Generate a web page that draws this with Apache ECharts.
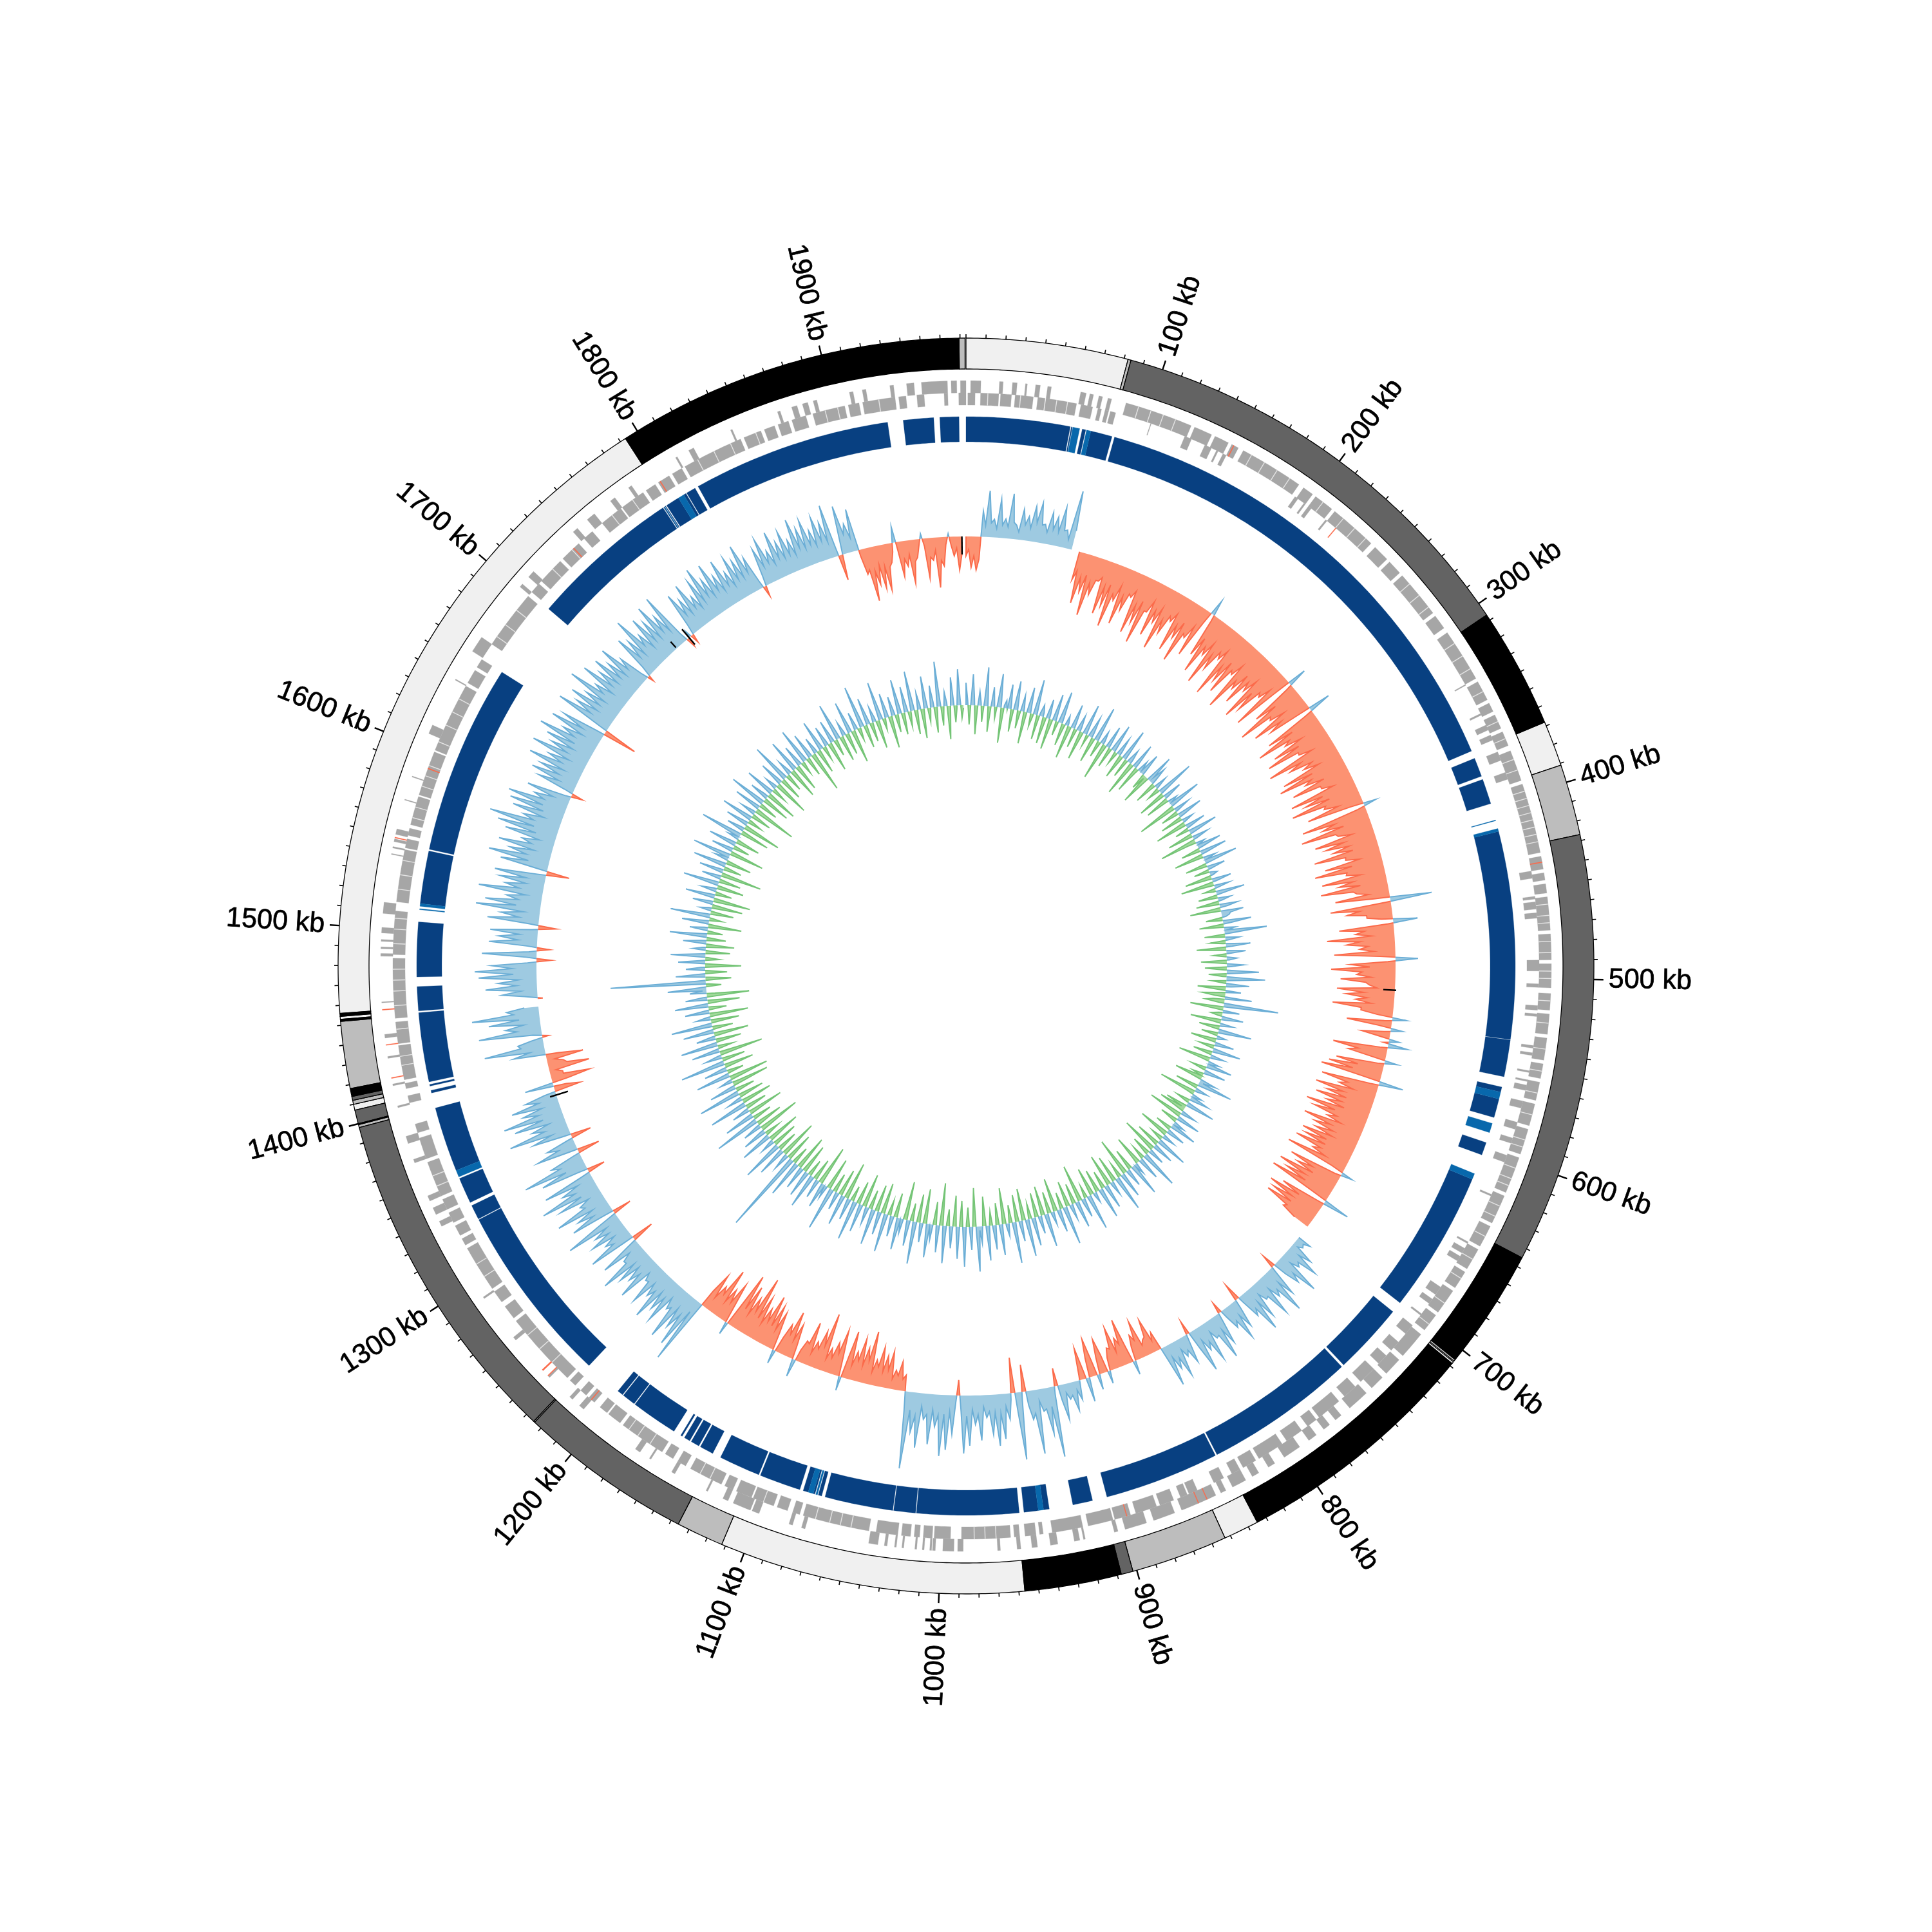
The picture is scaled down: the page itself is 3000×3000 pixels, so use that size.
<!DOCTYPE html>
<html><head><meta charset="utf-8">
<style>html,body{margin:0;padding:0;background:#fff}#c{width:3000px;height:3000px}</style>
<script src="https://cdn.jsdelivr.net/npm/echarts@6/dist/echarts.min.js"></script></head>
<body><div id="c"></div>
<script>
const genomeKb = 1973;
const labelKb = [100,200,300,400,500,600,700,800,900,1000,1100,1200,1300,1400,1500,1600,1700,1800,1900];

// contig ideogram [start kb, end kb, shade]
const ideoF0 = [[0,82],[368,391],[707.5,708.5],[835,853],[957,1112],[1407,1410],[1453,1454.5],[1456,1793]];
const ideoBD = [[82,83.5],[391,427],[706,707],[853,902],[1112,1136],[1224.3,1225],[1398,1399.5],[1410,1412],[1418,1452],[1969.5,1972.5]];
const ideo63 = [[83.5,307],[427,645],[902,908],[1136,1224.3],[1225,1398],[1400,1407],[1412,1414]];
const ideo00 = [[307,368],[645,706],[708.5,835],[908,957],[1399.5,1400],[1414,1418],[1452,1453],[1454.5,1456],[1793,1969.5]];

// strand gene blocks
const genesOuter = [[2.5,8],[18,20],[25,27.5],[32,33],[37.5,40],[44,46],[62,65],[67,69],[72,74],[77,79],[87,124],[126,136],[138,146],[148,152],[155,190],[193,199],[201,212],[214,240],[243,252],[254,262],[264,290],[292,300],[303,332],[334,345],[347,352],[354,362],[364,372],[375,392],[394,432],[434,441],[443,447],[449,454],[456,474],[476,490],[492,505],[508,517],[519,530],[532,544],[546,554],[556,566],[568,580],[582,596],[598,618],[620,636],[638,650],[652,664],[666,676],[678,692],[694,704],[707,722],[725,735],[738,746],[750,762],[768,772],[776,780],[785,790],[796,806],[812,816],[822,826],[830,838],[842,845],[848,868],[872,884],[888,900],[904,906],[922,923],[925,928],[937,941],[948,951],[957,959],[968,969.5],[988,991],[993,999],[1003,1004.5],[1005,1006],[1009,1010],[1013,1014],[1020,1021],[1024,1025],[1029,1030.5],[1034,1039],[1074,1076],[1081,1083],[1100,1104],[1105,1115],[1118,1121],[1130,1131],[1150,1152],[1165,1166],[1172,1175],[1210,1213],[1218,1220],[1235,1236],[1262,1264],[1290,1291],[1335,1338],[1342,1346],[1350,1353],[1372,1374],[1383,1387],[1403,1404],[1415,1416],[1430,1431],[1441,1443],[1460,1460.5],[1485,1486.5],[1489,1490],[1493,1494],[1497.5,1500.5],[1508,1514],[1540,1540.5],[1543.5,1544.3],[1547,1548.5],[1551,1554],[1570,1570.5],[1583,1583.5],[1608,1613],[1640,1640.6],[1658,1667],[1701,1703],[1708,1712],[1742,1745],[1752,1757],[1768,1771],[1780,1782],[1810,1811],[1818,1821],[1843,1844],[1870,1871.5],[1878,1881],[1884,1887],[1890,1892],[1910,1912],[1917,1919],[1932,1934],[1941,1945],[1949,1963],[1965,1968],[1970,1973]];
const genesInner = [[1,5],[8,18],[19,25],[27,37],[39.5,43.5],[44,61],[63.5,70],[73,75],[77,79],[80,83],[103,103.4],[123,127],[135,139],[142,143],[146,148],[192,194],[198,199],[201,203],[213,214],[332,332.6],[350,351],[357,360],[363,366],[373,378],[385,389],[441,445],[455,456.5],[458,462],[464,467],[490,496],[503,505],[515,517.5],[519.5,521],[537,538.5],[541,542.5],[551,552],[556,557],[559,562],[568,572],[580,584],[589,592],[599,603],[622,623],[651,652],[655,658],[660,663],[680,685],[688,691],[698,699],[706,712],[718,724],[728,734],[738,748],[752,760],[764,778],[780,786],[790,800],[803,818],[820,828],[830,835],[840,846],[856,861],[862,866],[870,878],[880,892],[895,904],[905,919],[922,939],[944,946],[948,954],[957,960],[962,989],[995,1004],[1005,1010],[1012,1015],[1017,1022],[1024,1036],[1040,1077],[1079,1083],[1086,1092],[1094,1106],[1107,1116],[1118,1123],[1125,1144],[1147,1152],[1155,1160],[1162,1188],[1190,1198],[1199,1204],[1208,1212],[1214,1218],[1222,1226],[1228,1270],[1272,1280],[1283,1290],[1292,1318],[1320,1324],[1326,1332],[1334,1340],[1342,1348],[1350,1370],[1372,1384],[1387,1392],[1404,1408],[1412,1415],[1417,1436],[1437,1449],[1451,1484],[1486,1510],[1515,1544],[1545,1550],[1552,1556],[1558,1574],[1575,1600],[1601,1640],[1642,1650],[1652,1657],[1667,1700],[1703,1709],[1711,1726],[1728,1740],[1744,1750],[1757,1770],[1771,1785],[1787,1793],[1795,1802],[1804,1810],[1812,1846],[1848,1858],[1860,1866],[1868,1874],[1876,1884],[1888,1906],[1908,1914],[1916,1934],[1936,1940],[1946,1950],[1961,1963],[1969,1973]];
const genesRedOuter = [[149,149.5],[437,437.5],[853,853.4],[858,858.4],[1236,1236.5],[1240,1240.8],[1419,1419.5],[1437,1437.5],[1456,1456.5],[1549,1549.5]];
const genesRedInner = [[220,220.5],[897,897.4],[1210,1210.5],[1590,1590.5],[1736,1736.5],[1796,1796.5]];
// narrow pale seams between neighbouring genes
const seamsOuter = [94,101,108,115,160,168,176,184,206,220,228,236,270,278,286,310,318,326,340,358,368,380,386,398,402,406,410,414,418,422,426,460,466,470,480,486,496,500,512,524,538,550,562,574,588,592,604,610,614,626,632,644,658,670,686,700];
const seamsInner = [12,30,50,56,970,976,982,1050,1056,1062,1070,1100,1132,1138,1170,1178,1184,1240,1250,1260,1300,1308,1356,1362,1425,1430,1445,1458,1466,1472,1478,1492,1500,1506,1522,1530,1538,1562,1568,1580,1586,1592,1606,1616,1624,1632,1672,1680,1690,1720,1735,1764,1778,1820,1830,1840,1855,1895,1902,1925];

// alignment blocks
const alignDark = [[0,60],[60.6,61.2],[67,69],[72,84.5],[86,367],[371.5,382.5],[384.4,399],[415.5,535.4],[535.7,557],[563,566],[570,581],[596,603.5],[618.5,700.5],[707,748.5],[750,837.5],[838.5,905],[913.5,925],[938.7,942],[945,953.3],[956,1014.9],[1015.4,1028],[1028.5,1068],[1070,1072],[1074,1075],[1078,1081],[1083,1107],[1108,1132],[1137,1145],[1146,1151],[1152,1155.5],[1157,1158],[1162.5,1189.6],[1190.2,1198],[1198.6,1202],[1224,1329],[1329.5,1338],[1340,1355],[1360,1397.6],[1406.5,1408],[1410.5,1411.5],[1413,1453],[1454,1468],[1473.5,1505],[1515.5,1546],[1547,1657],[1702,1789.5],[1790,1790.4],[1791,1791.4],[1792,1800],[1803.5,1805],[1805.5,1811],[1813,1928],[1937,1954.5],[1958,1969]];
const alignLight = [[61.5,65.5],[69.5,72],[408.8,409.2],[413.8,415.5],[566,570],[584.5,590],[615,618.5],[942,945],[1072.5,1073.5],[1075,1078],[1356,1360],[1512,1512.6],[1514,1515.5],[1790.4,1790.7],[1800,1803.5]];

// outer skew track: one row per 100 kb, window starts every 4 kb ...
const skew0 = [-30,-48,-52,40,72,28,60,30,70,22,48,38,55,62,30,50,45,62,28,92,null,-45,-80,-60,-95];
const skew1 = [-60,-35,-85,-70,-100,-55,-90,-65,-40,-95,-75,-105,-50,-85,-60,-100,-70,-45,-90,-65,-100,-55,-80,25,-70];
const skew2 = [-95,-60,-105,-75,-50,-110,-80,-95,-55,-112,-70,-90,-60,-105,-85,-50,-100,30,-75,-110,-60,-95,-70,35,-85];
const skew3 = [-108,-65,-90,-105,-55,-112,-80,-60,-100,-110,-70,-95,-50,-105,-85,-110,-60,-90,20,-105,-75,-112,-55,-95,-80];
const skew4 = [-70,-103,-55,-90,-108,-60,-100,-75,-105,-50,-85,65,-95,-70,-40,38,-85,-60,-105,-75,-55,-95,35,-70,-100];
const skew5 = [-60,-85,-40,-90,-75,-60,-95,-50,22,-70,18,-45,16,30,-85,-60,20,-75,-85,-95,38,-90,-60,-95,-75];
const skew6 = [-90,-70,-100,-85,-60,-95,-75,-70,-88,-80,-92,-60,-98,18,-85,-70,-96,-80,-100,42,-72,-90,-80,-85,-50];
const skew7 = [null,null,22,15,38,55,30,70,45,-22,50,75,40,65,30,55,72,40,-28,45,60,35,-18,50,70];
const skew8 = [30,62,40,70,-22,45,30,58,42,65,-30,-55,-25,-60,-40,22,-72,-45,-65,-35,20,-55,24,-60,38];
const skew9 = [-50,30,45,25,55,-28,110,72,35,100,45,-42,105,-55,40,70,80,62,35,70,45,78,90,-24,60];
const skew10 = [85,95,50,78,40,85,62,120,-25,-45,-30,-58,-50,-62,-40,-83,-55,-68,-45,-75,22,-72,-50,-38,-91];
const skew11 = [-60,-40,-68,-35,28,-55,-72,-48,22,-60,-68,-80,-55,-70,-98,-60,-75,-90,20,-65,-50,-79,-45,-60,106];
const skew12 = [85,60,85,40,70,55,78,45,65,30,72,48,58,82,35,66,-35,75,42,60,48,90,-30,70,55];
const skew13 = [85,40,70,95,55,80,-28,75,100,50,-35,65,45,-32,60,95,55,80,94,60,75,50,-41,45,-61];
const skew14 = [-20,-64,-25,-58,50,94,40,-10,98,55,80,105,50,null,-8,55,80,60,90,96,70,-23,85,-20,75];
const skew15 = [60,74,-28,80,60,100,87,55,100,60,70,80,-36,75,96,65,85,50,80,95,111,60,80,88,94];
const skew16 = [55,70,-18,60,75,65,88,60,92,65,78,95,60,85,70,-54,90,65,80,60,95,55,85,62,78];
const skew17 = [60,80,50,-10,72,60,92,55,78,65,85,60,88,-15,-14,70,55,75,48,70,85,60,80,55,75];
const skew18 = [50,70,60,80,55,-17,60,72,48,75,55,68,50,80,62,72,52,70,58,83,-40,76,45,66,-40];
const skew19 = [-84,-60,-68,-72,-30,25,-55,-40,-68,-28,8,-62,-35,-78,-45,5,-30,-52,null];
// ... and the solid core read between those spikes, 2 kb later
const core0 = [-20,-30,-35,18,22,14,20,18,26,12,24,20,30,28,18,24,22,26,14,30,null,-30,-38,-32,-42];
const core1 = [-35,-28,-40,-34,-46,-30,-44,-36,-28,-48,-38,-50,-30,-42,-34,-50,-38,-30,-46,-36,-50,-32,-20,-10,-38];
const core2 = [-48,-36,-52,-40,-32,-56,-42,-50,-34,-58,-40,-46,-36,-54,-44,-30,-30,-10,-40,-56,-36,-48,-22,-12,-44];
const core3 = [-55,-38,-48,-54,-34,-60,-44,-36,-52,-58,-40,-50,-32,-54,-46,-56,-38,-22,-12,-54,-42,-58,-34,-50,-44];
const core4 = [-40,-54,-34,-48,-58,-38,-52,-42,-55,-32,-25,-10,-50,-40,-18,-8,-46,-36,-54,-42,-34,-24,-12,-40,-52];
const core5 = [-38,-46,-28,-48,-42,-36,-50,-24,-12,-20,-10,-15,-8,-12,-45,-22,-10,-40,-46,-30,-14,-48,-36,-50,-42];
const core6 = [-48,-40,-52,-46,-36,-50,-42,-40,-46,-44,-48,-36,-20,-10,-46,-40,-50,-44,-30,-12,-40,-48,-44,-46,-25];
const core7 = [null,null,12,8,18,24,16,30,22,10,24,30,20,28,16,24,30,10,14,22,26,12,16,24,28];
const core8 = [16,28,20,30,12,22,16,26,20,12,-18,-28,-18,-30,-22,-25,-34,-24,-32,-20,-28,-26,-24,-30,-12];
const core9 = [-8,14,20,14,24,12,30,32,18,36,22,14,30,10,20,30,28,26,18,30,22,32,24,14,26];
const core10 = [30,32,24,32,20,36,28,30,-18,-22,-16,-28,-24,-30,-20,-36,-26,-32,-22,-34,-30,-34,-24,-20,-38];
const core11 = [-30,-20,-32,-18,-22,-28,-34,-24,-26,-30,-32,-36,-28,-32,-40,-30,-34,-38,-24,-30,-26,-34,-22,-28,20];
const core12 = [34,28,34,22,30,26,32,24,28,18,30,24,26,34,20,18,16,30,22,26,24,34,14,30,26];
const core13 = [34,22,30,36,26,14,16,32,38,12,14,28,10,14,28,36,26,32,36,28,30,18,-20,-25,-20];
const core14 = [-10,-30,-12,-20,24,36,18,14,38,26,32,40,22,null,20,26,32,28,36,38,14,16,12,14,30];
const core15 = [28,10,14,32,26,38,36,26,38,28,30,14,16,32,38,28,34,24,32,38,42,28,32,36,38];
const core16 = [26,10,14,28,32,28,36,28,36,30,32,38,28,34,14,16,36,30,32,28,38,26,34,30,32];
const core17 = [28,32,12,16,30,28,38,26,32,30,34,28,14,10,16,30,26,30,24,30,34,28,32,26,30];
const core18 = [24,30,28,32,12,16,28,30,24,30,26,28,24,32,28,30,26,30,26,14,12,30,22,-10,-34];
const core19 = [-38,-30,-34,-36,-14,-14,-28,-22,-34,-10,-12,-30,-20,-36,-12,-14,-18,-26,null];

// inner composition track: same layout
const comp0 = [35,-30,48,-45,22,-25,60,-40,30,-18,52,-55,12,38,-35,45,-28,25,-50,40,-20,55,-38,18,-42];
const comp1 = [30,-48,42,-22,50,-35,15,-52,38,-30,25,-45,48,-18,32,-40,55,-26,20,-58,35,-32,44,-20,28];
const comp2 = [-38,50,-30,22,-55,40,-42,18,35,-25,-48,45,28,-35,20,-20,60,-44,30,-38,15,52,-62,25,-28];
const comp3 = [40,-35,18,-50,32,-22,46,-40,25,-58,14,38,-30,42,-46,20,52,-34,28,-24,12,-42,30,-52,24];
const comp4 = [-18,45,-30,20,-36,28,-48,35,12,-26,44,-38,18,66,-32,22,-24,38,-46,30,-20,16,-40,26,-34];
const comp5 = [50,-28,60,-22,36,-44,24,-36,42,-30,85,-52,26,-18,34,-48,20,-32,52,-26,14,-40,30,-24,44];
const comp6 = [-30,22,-50,18,40,-24,34,-18,-44,26,55,-36,20,-58,16,30,-22,46,-34,-42,24,-54,38,-28,18];
const comp7 = [42,-26,30,-48,20,-20,50,-38,34,-56,26,-30,60,-22,36,-46,18,52,-34,28,-60,40,-24,56,-42];
const comp8 = [22,-50,38,-28,48,-36,16,-44,56,-20,30,-58,42,-32,24,-40,60,-26,36,-52,20,-34,52,-46,28];
const comp9 = [-38,44,-24,58,-50,32,-42,64,-28,20,-56,48,-34,38,-22,54,-46,26,70,-60,36,-30,62,-40,50];
const comp10 = [-48,34,-26,58,-66,42,-36,24,52,-54,30,-44,66,-28,40,-60,22,50,-38,32,-24,60,-48,36,-42];
const comp11 = [56,-30,26,-52,44,-36,62,-24,34,-58,48,-42,28,-30,68,-50,20,40,-62,30,-34,54,-26,42,-46];
const comp12 = [36,-54,58,-28,130,-44,26,-60,46,-32,64,-40,22,-52,50,-24,38,-66,30,-42,72,-30,48,-56,28];
const comp13 = [-34,60,-48,24,-40,66,-30,42,-58,20,-62,54,-26,36,-46,70,-36,26,-68,44,-24,58,-40,30,-54];
const comp14 = [48,-32,64,-44,22,-60,38,-28,52,-50,34,-66,26,60,-24,148,-40,46,-34,30,-56,42,-22,54,-38];
const comp15 = [20,-44,36,-30,58,-24,28,-52,42,-20,62,-36,18,-48,32,-58,46,-26,24,-42,56,-34,30,-64,38];
const comp16 = [-28,52,-40,22,60,-54,34,-26,44,-38,18,66,-46,28,-60,36,-22,50,-32,24,-68,42,-30,58,-44];
const comp17 = [30,-50,46,-24,20,-56,38,-36,62,-28,24,-48,52,-42,34,-20,56,-30,40,-64,26,-38,48,-22,32];
const comp18 = [-46,36,-26,58,-40,22,-34,50,-52,28,-20,66,-36,42,-30,24,-44,60,-18,38,-50,30,-28,54,-34];
const comp19 = [40,-24,62,-38,26,-46,50,-22,34,-40,70,-30,22,-52,44,-26,56,-20,null];
const compCore0 = [8,6,10,-4,5,7,12,-3,6,9,11,4,-2,8,5,10,-4,6,3,9,-3,11,5,7,-5];
const compCore1 = [7,-6,9,4,12,-5,4,-8,10,3,6,-6,11,5,8,-3,12,-4,6,-9,7,3,10,-2,6];
const compCore2 = [-7,11,4,6,-9,10,-5,4,8,-4,-8,9,7,-5,3,-3,12,-6,6,-5,4,10,-11,5,-4];
const compCore3 = [9,-5,3,-10,7,4,10,-6,5,-12,3,8,-4,9,-7,5,11,-4,6,3,4,-7,6,-10,5];
const compCore4 = [-4,10,-5,6,-8,12,-12,14,6,-4,12,-6,5,16,-5,6,-4,9,-10,7,-3,4,-8,6,-5];
const compCore5 = [12,-6,16,-4,8,-14,-12,-16,-18,-8,20,-14,-6,-5,7,-11,4,-6,12,-4,3,-8,7,-3,10];
const compCore6 = [-6,5,-10,4,9,-4,8,-3,-8,6,12,-5,4,-11,3,7,-4,10,-6,-7,5,-10,8,-5,4];
const compCore7 = [8,-4,6,-9,4,-3,10,-6,7,-10,5,-5,12,-3,8,-8,4,10,-5,6,-11,8,-4,11,-7];
const compCore8 = [5,-9,8,-4,10,-6,4,-8,11,-3,7,-10,9,-5,5,-7,12,-4,8,-9,4,-5,10,-8,6];
const compCore9 = [-7,9,-4,11,-9,7,-7,12,-5,4,-10,10,-6,8,-3,11,-8,6,14,-11,8,-5,12,-7,10];
const compCore10 = [-9,7,-4,12,-12,9,-6,5,10,-9,7,-8,13,-5,8,-11,4,10,-7,7,-4,12,-9,8,-7];
const compCore11 = [11,-5,6,-10,9,-6,12,-4,7,-11,10,-7,6,-5,13,-9,4,8,-12,7,-6,11,-4,9,-8];
const compCore12 = [8,-10,12,-5,16,-8,6,-12,9,-6,13,-7,5,-10,10,-4,8,-13,7,-7,14,-5,10,-10,6];
const compCore13 = [-6,12,-9,5,-7,13,-5,9,-11,4,-12,11,-4,8,-8,14,-6,6,-13,9,-4,12,-7,7,-10];
const compCore14 = [10,-6,13,-8,5,-12,8,-5,11,-9,7,-13,6,12,-4,14,-7,10,-6,7,-11,9,-4,11,-7];
const compCore15 = [5,-8,8,-5,12,-4,6,-10,9,-3,13,-6,4,-9,7,-11,10,-5,6,-7,11,-6,7,-12,8];
const compCore16 = [-5,11,-7,5,12,-10,8,-5,9,-7,4,13,-8,6,-11,8,-4,10,-6,5,-13,9,-5,12,-8];
const compCore17 = [7,-9,10,-4,5,-10,8,-6,12,-5,6,-9,11,-7,8,-3,11,-5,8,-12,6,-7,10,-4,7];
const compCore18 = [-8,8,-5,12,-7,5,-6,10,-10,6,-4,13,-6,9,-5,6,-8,12,-3,8,-9,7,-5,11,-6];
const compCore19 = [9,-4,12,-7,6,-8,10,-4,8,-7,14,-5,5,-10,9,-5,11,-4,null];

const blackMarks = [[511,-18,2],[1741,2,14],[1753,-14,17],[1384,-19,10],[1970,-28,0]];

const skewRows = [skew0,skew1,skew2,skew3,skew4,skew5,skew6,skew7,skew8,skew9,skew10,skew11,skew12,skew13,skew14,skew15,skew16,skew17,skew18,skew19];
const coreRows = [core0,core1,core2,core3,core4,core5,core6,core7,core8,core9,core10,core11,core12,core13,core14,core15,core16,core17,core18,core19];
const compRows = [comp0,comp1,comp2,comp3,comp4,comp5,comp6,comp7,comp8,comp9,comp10,comp11,comp12,comp13,comp14,comp15,comp16,comp17,comp18,comp19];
const compCoreRows = [compCore0,compCore1,compCore2,compCore3,compCore4,compCore5,compCore6,compCore7,compCore8,compCore9,compCore10,compCore11,compCore12,compCore13,compCore14,compCore15,compCore16,compCore17,compCore18,compCore19];

// track radii on the radius axis
const RAD = {ideoIn:927, ideoOut:975, tickMajor:990, tickMinor:981, label:998, gOutHi:909, gMid:890, gInLo:871, alignIn:814, alignOut:853, skewBase:667, compBase:405};

function arcPoly(api,s,e,r0,r1){
  const pts=[]; const n=Math.max(1,Math.ceil((e-s)/2));
  for(let i=0;i<=n;i++) pts.push(api.coord([r1,s+(e-s)*i/n]));
  for(let i=n;i>=0;i--) pts.push(api.coord([r0,s+(e-s)*i/n]));
  return pts;
}
function arcSeries(items,r0,r1,fill,stroke){
  return {type:'custom',coordinateSystem:'polar',silent:true,animation:false,clip:false,
    data:items.map(d=>[d[0],d[1]]),
    renderItem:(p,api)=>({type:'polygon',shape:{points:arcPoly(api,api.value(0),api.value(1),r0,r1)},
      style:stroke?{fill:fill,stroke:stroke,lineWidth:1.3}:{fill:fill,stroke:fill,lineWidth:0.3}})};
}
function seamSeries(list,r0,r1){
  return {type:'custom',coordinateSystem:'polar',silent:true,animation:false,clip:false,
    data:list.map(k=>[k,0]),
    renderItem:(p,api)=>{const k=api.value(0);const a=api.coord([r0,k]),b=api.coord([r1,k]);
      return {type:'line',shape:{x1:a[0],y1:a[1],x2:b[0],y2:b[1]},style:{stroke:'#e4e4e4',lineWidth:1.4}};}};
}
function buildRuns(rows,cores){
  const seq=[];
  rows.forEach((row,r)=>row.forEach((v,i)=>{
    const kb=r*100+i*4;
    seq.push([kb,v]);
    if(kb+2<genomeKb) seq.push([kb+2,cores[r]?cores[r][i]:null]);
  }));
  const runs=[]; let cur=null, prev=null;
  seq.forEach(([kb,v])=>{
    if(v===null||v===undefined){cur=null;prev=null;return;}
    const sign=v>=0?1:-1;
    if(prev&&prev.sign!==sign){
      const k=prev.kb+(kb-prev.kb)*prev.v/(prev.v-v);
      cur.pts.push([k,0]);
      cur={sign:sign,pts:[[k,0]]}; runs.push(cur);
    }
    if(!cur){cur={sign:sign,pts:[[kb,0]]}; runs.push(cur);}
    cur.pts.push([kb,v]);
    prev={kb:kb,v:v,sign:sign};
  });
  return runs;
}
function trackSeries(rows,cores,base,posFill,posLine,negFill,negLine){
  const runs=buildRuns(rows,cores);
  return {type:'custom',coordinateSystem:'polar',silent:true,animation:false,clip:false,
    data:runs.map((r,i)=>[i,0]),
    renderItem:(p,api)=>{
      const run=runs[p.dataIndex];
      const top=run.pts.map(q=>api.coord([base+q[1],q[0]]));
      const bot=[];
      const s=run.pts[0][0], e=run.pts[run.pts.length-1][0], n=Math.max(1,Math.ceil((e-s)/4));
      for(let i=n;i>=0;i--) bot.push(api.coord([base,s+(e-s)*i/n]));
      const f=run.sign>0?posFill:negFill, l=run.sign>0?posLine:negLine;
      return {type:'group',children:[
        {type:'polygon',shape:{points:top.concat(bot)},style:{fill:f}},
        {type:'polyline',shape:{points:top},style:{fill:null,stroke:l,lineWidth:1.9}}]};
    }};
}
const tickKb=[]; for(let k=0;k<genomeKb;k+=10) tickKb.push(k);

const series=[
  arcSeries(ideoF0,RAD.ideoIn,RAD.ideoOut,'#f0f0f0','#000'),
  arcSeries(ideoBD,RAD.ideoIn,RAD.ideoOut,'#bdbdbd','#000'),
  arcSeries(ideo63,RAD.ideoIn,RAD.ideoOut,'#636363','#000'),
  arcSeries(ideo00,RAD.ideoIn,RAD.ideoOut,'#000000','#000'),
  {type:'custom',coordinateSystem:'polar',silent:true,animation:false,clip:false,
   data:tickKb.map(k=>[k,0]),
   renderItem:(p,api)=>{const k=api.value(0);const major=k%100===0&&k>0;
     const a=api.coord([RAD.ideoOut,k]),b=api.coord([major?RAD.tickMajor:RAD.tickMinor,k]);
     return {type:'line',shape:{x1:a[0],y1:a[1],x2:b[0],y2:b[1]},style:{stroke:'#000',lineWidth:major?2.4:1.6}};}},
  {type:'custom',coordinateSystem:'polar',silent:true,animation:false,clip:false,
   data:labelKb.map(k=>[k,0]),
   renderItem:(p,api)=>{const k=api.value(0);const pt=api.coord([RAD.label,k]);
     const theta=k/genomeKb*360; const right=theta<180;
     const rot=(90-theta+(right?0:180))*Math.PI/180;
     return {type:'text',x:pt[0],y:pt[1],rotation:rot,
       style:{text:k+' kb',fill:'#000',stroke:'#000',lineWidth:0.7,font:'43px "Liberation Sans"',textAlign:right?'left':'right',textVerticalAlign:'middle'}};}},
  arcSeries(genesOuter,RAD.gMid,RAD.gOutHi,'#a6a6a6'),
  arcSeries(genesInner,RAD.gInLo,RAD.gMid,'#a6a6a6'),
  seamSeries(seamsOuter,RAD.gMid,RAD.gOutHi),
  seamSeries(seamsInner,RAD.gInLo,RAD.gMid),
  arcSeries(genesRedOuter,RAD.gMid,RAD.gOutHi,'#fb6a4a'),
  arcSeries(genesRedInner,RAD.gInLo,RAD.gMid,'#fb6a4a'),
  arcSeries(alignDark,RAD.alignIn,RAD.alignOut,'#084081'),
  arcSeries(alignLight,RAD.alignIn,RAD.alignOut,'#0868ac'),
  trackSeries(skewRows,coreRows,RAD.skewBase,'#9ecae1','#6baed6','#fc9272','#fb6a4a'),
  trackSeries(compRows,compCoreRows,RAD.compBase,'#9ecae1','#6baed6','#a1d99b','#74c476'),
  {type:'custom',coordinateSystem:'polar',silent:true,animation:false,clip:false,
   data:blackMarks,
   renderItem:(p,api)=>{const k=api.value(0);
     const a=api.coord([RAD.skewBase+api.value(1),k]),b=api.coord([RAD.skewBase+api.value(2),k]);
     return {type:'line',shape:{x1:a[0],y1:a[1],x2:b[0],y2:b[1]},style:{stroke:'#000',lineWidth:2.4}};}}
];
const chart=echarts.init(document.getElementById('c'),null,{renderer:'canvas',width:3000,height:3000});
chart.setOption({animation:false,backgroundColor:'#fff',
  polar:{center:[1500,1500],radius:1050},
  angleAxis:{type:'value',min:0,max:genomeKb,startAngle:90,clockwise:true,show:false},
  radiusAxis:{type:'value',min:0,max:1050,show:false},
  series:series});
</script></body></html>
